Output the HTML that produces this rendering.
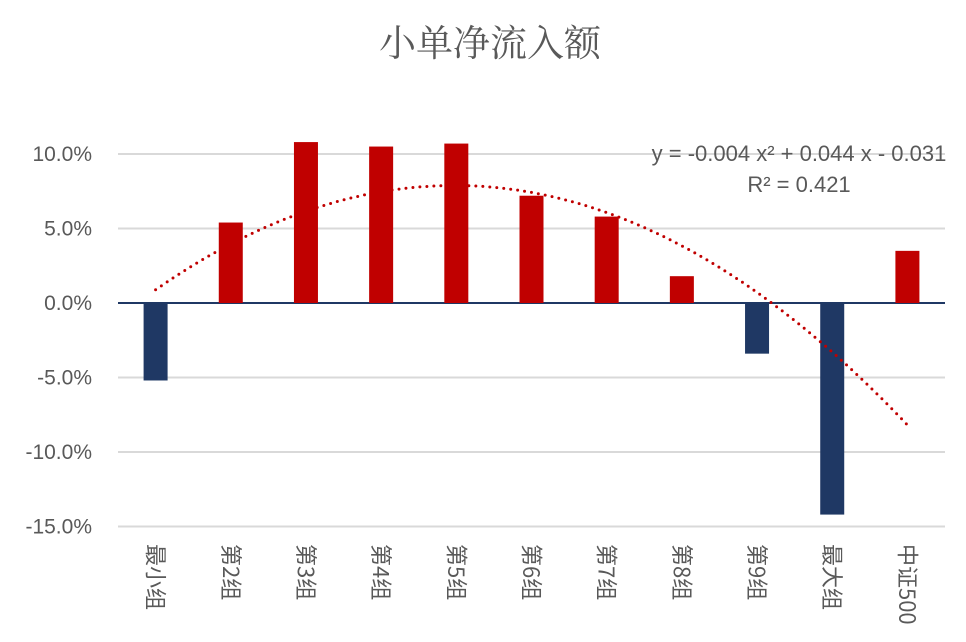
<!DOCTYPE html>
<html><head><meta charset="utf-8"><style>
html,body{margin:0;padding:0;background:#fff;}
svg{display:block;font-family:"Liberation Sans","Noto Sans CJK SC",sans-serif;}
</style></head><body>
<svg id="chart" width="966" height="642" viewBox="0 0 966 642">
<text x="490" y="56" text-anchor="middle" font-size="37" fill="#595959" font-family="Noto Serif CJK SC, serif">小单净流入额</text>
<g id="grid"></g><g id="bars"></g><g id="trend"></g><g id="labels"></g>
<text x="799" y="161" text-anchor="middle" font-size="22" fill="#595959">y = -0.004 x² + 0.044 x - 0.031</text>
<text x="799" y="192" text-anchor="middle" font-size="22" fill="#595959">R² = 0.421</text>
</svg>
<script>
const categories=["最小组","第2组","第3组","第4组","第5组","第6组","第7组","第8组","第9组","最大组","中证500"];
const values=[-5.2,5.4,10.8,10.5,10.7,7.2,5.8,1.8,-3.4,-14.2,3.5];
const yTicks=[10,5,0,-5,-10,-15];
const yTickLabels=["10.0%","5.0%","0.0%","-5.0%","-10.0%","-15.0%"];
const ns="http://www.w3.org/2000/svg";
const x0=118,x1=945,step=(x1-x0)/categories.length;
function xs(i){return x0+step*(i+0.5);}
function ys(v){return 303-v*14.9;}
function mk(t,a,p){const e=document.createElementNS(ns,t);for(const k in a)e.setAttribute(k,a[k]);p.appendChild(e);return e;}
const grid=document.getElementById('grid');
yTicks.forEach((t,i)=>{
 const l=mk('line',{x1:x0,x2:x1,y1:ys(t),y2:ys(t),stroke:t===0?'#1f3864':'#d9d9d9','stroke-width':2},grid);
 
 
 const tx=mk('text',{x:92,y:ys(t)+7,'text-anchor':'end','font-size':21,fill:'#595959'},grid);
 tx.textContent=yTickLabels[i];
 
 
});
const bars=document.getElementById('bars');
values.forEach((v,i)=>{
 const y=Math.min(ys(v),ys(0)),h=Math.abs(ys(v)-ys(0));
 const r=mk('rect',{x:xs(i)-12,y:y,width:24,height:h,fill:v>=0?'#c00000':'#1f3864'},bars);
 
 
});
(function(){
 let S=[0,0,0,0,0],T=[0,0,0];
 values.forEach((v,i)=>{const x=i+1;for(let k=0;k<5;k++)S[k]+=Math.pow(x,k);for(let k=0;k<3;k++)T[k]+=v*Math.pow(x,k);});
 const M=[[S[0],S[1],S[2],T[0]],[S[1],S[2],S[3],T[1]],[S[2],S[3],S[4],T[2]]];
 for(let c=0;c<3;c++){for(let r=c+1;r<3;r++){const f=M[r][c]/M[c][c];for(let k=c;k<4;k++)M[r][k]-=f*M[c][k];}}
 const b=[0,0,0];for(let r=2;r>=0;r--){let s=M[r][3];for(let k=r+1;k<3;k++)s-=M[r][k]*b[k];b[r]=s/M[r][r];}
 let d='';for(let t=1;t<=categories.length+0.001;t+=0.05){const v=b[0]+b[1]*t+b[2]*t*t;d+=(d?'L':'M')+xs(t-1).toFixed(1)+','+ys(v).toFixed(1);}
 const p=mk('path',{d:d,fill:'none',stroke:'#c00000','stroke-width':3,'stroke-dasharray':'0 7','stroke-linecap':'round'},document.getElementById('trend'));
 
 
})();
const labels=document.getElementById('labels');
categories.forEach((c,i)=>{
 const t=mk('text',{x:0,y:0,'font-size':22,fill:'#595959',transform:'translate('+(xs(i)-8)+',544) rotate(90)','font-family':'Noto Sans CJK SC, sans-serif'},labels);
 t.textContent=c;
 
 
});
</script>
</body></html>
